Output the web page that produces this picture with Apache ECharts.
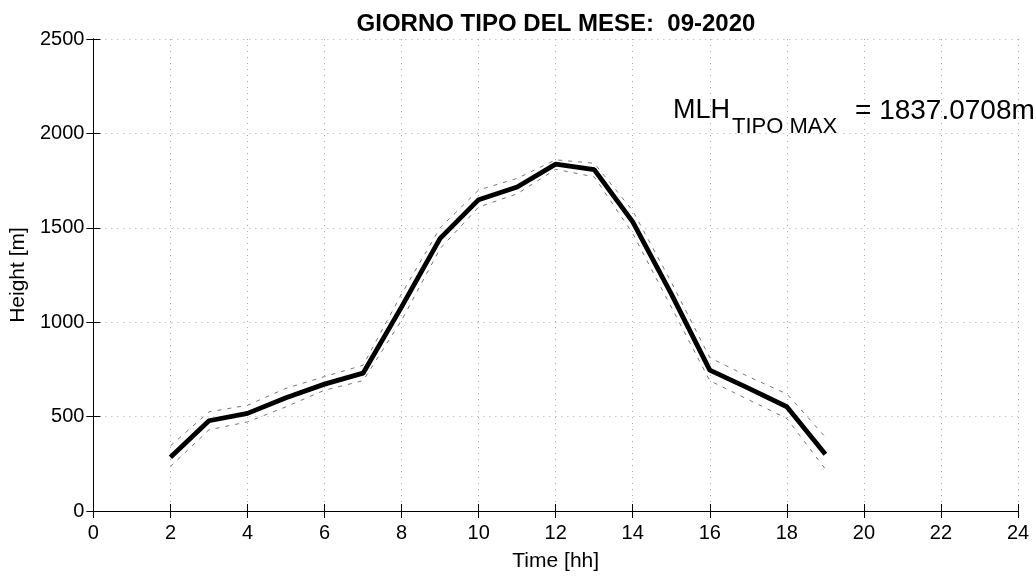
<!DOCTYPE html>
<html><head><meta charset="utf-8">
<script src="https://cdn.jsdelivr.net/npm/echarts@6/dist/echarts.min.js"></script>
<style>html,body{margin:0;padding:0;background:#fff}#c{width:1036px;height:577px}</style>
</head><body><div id="c"></div>
<script>
const hours = [2,3,4,5,6,7,8,9,10,11,12,13,14,15,16,17,18,19];
const meanMLH = [285,478,517,600,672,730,1081,1444,1649,1716,1837,1808,1531,1150,746,651,552,301];
const upperMLH = [345,525,560,650,712,772,1150,1500,1700,1762,1860,1842,1590,1212,812,712,620,392];
const lowerMLH = [235,430,472,552,640,690,1010,1390,1610,1680,1810,1770,1470,1080,690,590,490,222];
const xTicks = [0,2,4,6,8,10,12,14,16,18,20,22,24];
const yTicks = [0,500,1000,1500,2000,2500];
const titleText = 'GIORNO TIPO DEL MESE:  09-2020';
const maxText = '1837.0708';

const pair = (xs, ys) => xs.map((x, i) => [x, ys[i]]);
const font = 'Liberation Sans, Arial, sans-serif';
const chart = echarts.init(document.getElementById('c'));
const axisCommon = {
  type: 'value',
  axisLine: { show: true, lineStyle: { color: '#000', width: 1 } },
  axisTick: { show: true, inside: true, length: 7, lineStyle: { color: '#000' } },
  splitLine: { show: false },
};
const gridLine = { show: true, lineStyle: { type: [1, 5], color: '#aaa', width: 1 } };
chart.setOption({
  animation: false,
  backgroundColor: '#fff',
  grid: { left: 93, right: 18, top: 39, bottom: 66 },
  xAxis: [
    Object.assign({}, axisCommon, {
      min: xTicks[0], max: xTicks[xTicks.length - 1], interval: 2, position: 'bottom',
      name: 'Time [hh]', nameLocation: 'middle', nameGap: 40,
      nameTextStyle: { fontFamily: font, fontSize: 21, color: '#000' },
      axisLabel: { fontFamily: font, fontSize: 20, color: '#000', margin: 12, formatter: v => String(v) },
      splitLine: gridLine
    }),
    Object.assign({}, axisCommon, {
      min: xTicks[0], max: xTicks[xTicks.length - 1], interval: 2, position: 'top', axisLabel: { show: false }
    })
  ],
  yAxis: [
    Object.assign({}, axisCommon, {
      min: yTicks[0], max: yTicks[yTicks.length - 1], interval: 500, position: 'left',
      name: 'Height [m]', nameLocation: 'middle', nameGap: 59, nameRotate: 90,
      nameTextStyle: { fontFamily: font, fontSize: 21, color: '#000' },
      axisLabel: { fontFamily: font, fontSize: 20, color: '#000', margin: 9, formatter: v => String(v) },
      splitLine: gridLine
    }),
    Object.assign({}, axisCommon, {
      min: yTicks[0], max: yTicks[yTicks.length - 1], interval: 500, position: 'right', axisLabel: { show: false }
    })
  ],
  series: [
    { type: 'line', data: pair(hours, upperMLH), symbol: 'none',
      lineStyle: { color: '#777', width: 1, type: [4, 6] }, z: 2 },
    { type: 'line', data: pair(hours, lowerMLH), symbol: 'none',
      lineStyle: { color: '#777', width: 1, type: [4, 6] }, z: 2 },
    { type: 'line', data: pair(hours, meanMLH), symbol: 'none',
      lineStyle: { color: '#000', width: 4.8 }, z: 3 }
  ],
  graphic: [
    { type: 'text', x: 556, y: 24, z: 10,
      style: { text: titleText, font: 'bold 24px ' + font, fill: '#000', align: 'center', verticalAlign: 'middle' } },
    { type: 'text', x: 673, y: 111, z: 10,
      style: { text: 'MLH', font: '27px ' + font, fill: '#000', align: 'left', verticalAlign: 'middle' } },
    { type: 'text', x: 732, y: 127, z: 10,
      style: { text: 'TIPO MAX', font: '22px ' + font, fill: '#000', align: 'left', verticalAlign: 'middle' } },
    { type: 'text', x: 855, y: 111, z: 10,
      style: { text: '= ' + maxText + 'm', font: '28px ' + font, fill: '#000', align: 'left', verticalAlign: 'middle' } }
  ]
});
</script></body></html>
